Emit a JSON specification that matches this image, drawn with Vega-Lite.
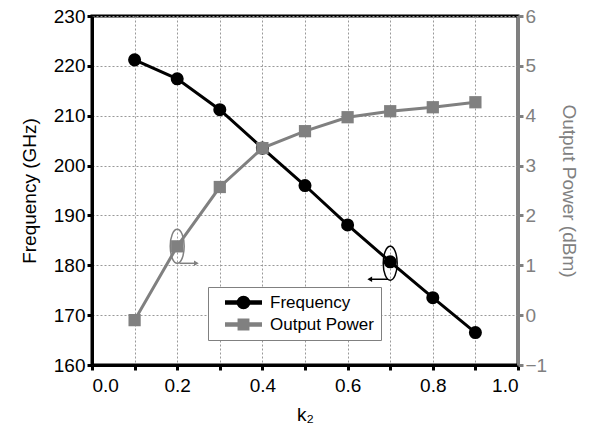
{
  "$schema": "https://vega.github.io/schema/vega-lite/v6.json",
  "width": 426,
  "height": 349,
  "autosize": {"type": "none"},
  "padding": {"left": 92, "top": 16, "right": 71, "bottom": 60},
  "config": {
    "font": "Liberation Sans",
    "view": {"stroke": "#000000", "strokeWidth": 3},
    "axis": {"labelFontSize": 19, "titleFontSize": 19, "titleFontWeight": "normal", "labelColor": "#000000", "titleColor": "#000000"}
  },
  "data": {
    "values": [
      {"k": 0.1, "freq": 221.2, "power": -0.1},
      {"k": 0.2, "freq": 217.4, "power": 1.38},
      {"k": 0.3, "freq": 211.2, "power": 2.57},
      {"k": 0.4, "freq": 203.5, "power": 3.35},
      {"k": 0.5, "freq": 196.0, "power": 3.69},
      {"k": 0.6, "freq": 188.1, "power": 3.97},
      {"k": 0.7, "freq": 180.7, "power": 4.09},
      {"k": 0.8, "freq": 173.5, "power": 4.17},
      {"k": 0.9, "freq": 166.5, "power": 4.27}
    ]
  },
  "encoding": {
    "x": {
      "field": "k", "type": "quantitative",
      "scale": {"domain": [0, 1], "nice": false},
      "axis": {
        "title": "k₂", "titlePadding": 10,
        "values": [0, 0.1, 0.2, 0.3, 0.4, 0.5, 0.6, 0.7, 0.8, 0.9, 1.0],
        "labelExpr": "(round(datum.value*10) % 2 == 0) ? format(datum.value, '.1f') : ''",
        "grid": true, "gridDash": [2, 2], "gridColor": "#999999", "gridOpacity": 1,
        "domainColor": "#000000", "domainWidth": 3, "tickColor": "#000000", "tickWidth": 3, "tickSize": 5,
        "labelPadding": 6
      }
    }
  },
  "layer": [
    {
      "layer": [
        {
          "mark": {"type": "line", "strokeWidth": 3},
          "encoding": {
            "y": {
              "field": "freq", "type": "quantitative",
              "scale": {"domain": [160, 230], "nice": false, "zero": false},
              "axis": {
                "title": "Frequency (GHz)", "orient": "left", "titlePadding": 14,
                "values": [160, 165, 170, 175, 180, 185, 190, 195, 200, 205, 210, 215, 220, 225, 230],
                "labelExpr": "datum.value % 10 == 0 ? datum.label : ''",
                "grid": true, "gridDash": [2, 2], "gridColor": "#999999", "gridOpacity": 1,
                "domainColor": "#000000", "domainWidth": 3, "tickColor": "#000000", "tickWidth": 3, "tickSize": 5
              }
            },
            "color": {
              "datum": "Frequency", "type": "nominal",
              "scale": {"domain": ["Frequency", "Output Power"], "range": ["#000000", "#808080"]},
              "legend": {
                "orient": "none", "legendX": 116, "legendY": 271, "title": null,
                "strokeColor": "#808080", "fillColor": "#ffffff", "padding": 7,
                "labelFontSize": 17, "labelColor": "#000000", "symbolSize": 150, "rowPadding": 3,
                "symbolOffset": 20, "labelOffset": 18,
                "labelExpr": "datum.label + '   '",
                "encode": {
                  "symbols": {
                    "update": {
                      "shape": {"signal": "datum.value == 'Frequency' ? 'M -2.9 -0.25 L 2.9 -0.25 L 2.9 0.25 L -2.9 0.25 Z M 1 0 A 1 1 0 1 1 -1 0 A 1 1 0 1 1 1 0 Z' : 'M -2.9 -0.25 L 2.9 -0.25 L 2.9 0.25 L -2.9 0.25 Z M -0.85 -0.85 L 0.85 -0.85 L 0.85 0.85 L -0.85 0.85 Z'"},
                      "fill": {"signal": "datum.value == 'Frequency' ? '#000000' : '#808080'"},
                      "stroke": {"value": null},
                      "opacity": {"value": 1}
                    }
                  }
                }
              }
            }
          }
        },
        {
          "mark": {"type": "point", "filled": true, "shape": "circle", "size": 170, "opacity": 1},
          "encoding": {
            "y": {"field": "freq", "type": "quantitative"},
            "color": {"datum": "Frequency", "type": "nominal"}
          }
        },
        {
          "data": {"values": [{"k": 0.7, "freq": 180.4}]},
          "mark": {"type": "point", "shape": "M 0 -1 A 0.41 1 0 1 1 0 1 A 0.41 1 0 1 1 0 -1 Z", "size": 1156, "filled": false, "stroke": "#000000", "strokeWidth": 1.5, "opacity": 1},
          "encoding": {"y": {"field": "freq", "type": "quantitative"}}
        },
        {
          "data": {"values": [{"k": 0.695, "k2": 0.655, "freq": 177.2}]},
          "mark": {"type": "rule", "stroke": "#000000", "strokeWidth": 1.5},
          "encoding": {"x2": {"field": "k2"}, "y": {"field": "freq", "type": "quantitative"}}
        },
        {
          "data": {"values": [{"k": 0.652, "freq": 177.2}]},
          "mark": {"type": "point", "shape": "triangle-left", "size": 30, "filled": true, "color": "#000000", "opacity": 1},
          "encoding": {"y": {"field": "freq", "type": "quantitative"}}
        }
      ]
    },
    {
      "layer": [
        {
          "mark": {"type": "line", "strokeWidth": 3},
          "encoding": {
            "y": {
              "field": "power", "type": "quantitative",
              "scale": {"domain": [-1, 6], "nice": false, "zero": false},
              "axis": {
                "title": "Output Power (dBm)", "orient": "right", "titlePadding": 12,
                "values": [-1, -0.5, 0, 0.5, 1, 1.5, 2, 2.5, 3, 3.5, 4, 4.5, 5, 5.5, 6],
                "labelExpr": "datum.value % 1 == 0 ? datum.label : ''",
                "grid": false,
                "domainColor": "#808080", "domainWidth": 3, "tickColor": "#808080", "tickWidth": 3, "tickSize": 5,
                "labelColor": "#808080", "titleColor": "#808080"
              }
            },
            "color": {"datum": "Output Power", "type": "nominal"}
          }
        },
        {
          "mark": {"type": "point", "filled": true, "shape": "square", "size": 150, "opacity": 1},
          "encoding": {
            "y": {"field": "power", "type": "quantitative"},
            "color": {"datum": "Output Power", "type": "nominal"}
          }
        },
        {
          "data": {"values": [{"k": 0.2, "power": 1.38}]},
          "mark": {"type": "point", "shape": "M 0 -1 A 0.41 1 0 1 1 0 1 A 0.41 1 0 1 1 0 -1 Z", "size": 1156, "filled": false, "stroke": "#808080", "strokeWidth": 1.5, "opacity": 1},
          "encoding": {"y": {"field": "power", "type": "quantitative"}}
        },
        {
          "data": {"values": [{"k": 0.205, "k2": 0.243, "power": 1.04}]},
          "mark": {"type": "rule", "stroke": "#808080", "strokeWidth": 1.5},
          "encoding": {"x2": {"field": "k2"}, "y": {"field": "power", "type": "quantitative"}}
        },
        {
          "data": {"values": [{"k": 0.245, "power": 1.04}]},
          "mark": {"type": "point", "shape": "triangle-right", "size": 30, "filled": true, "color": "#808080", "opacity": 1},
          "encoding": {"y": {"field": "power", "type": "quantitative"}}
        }
      ]
    }
  ],
  "resolve": {"scale": {"y": "independent"}}
}
